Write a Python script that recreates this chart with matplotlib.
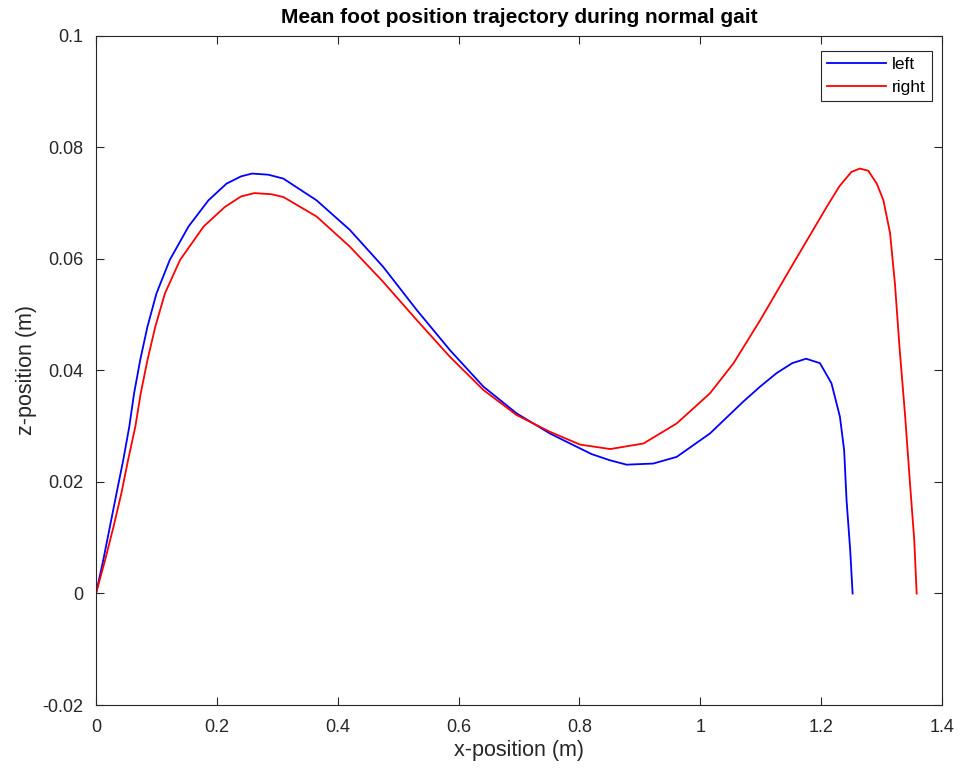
import matplotlib.pyplot as plt

# values
left_x = [0.0, 0.012, 0.023, 0.034, 0.045, 0.055, 0.063, 0.073, 0.085, 0.100,
          0.122, 0.153, 0.186, 0.216, 0.240, 0.258, 0.285, 0.310, 0.365,
          0.420, 0.475, 0.531, 0.586, 0.641, 0.696, 0.751, 0.790, 0.820,
          0.850, 0.878, 0.922, 0.961, 1.016, 1.071, 1.099, 1.126, 1.152,
          1.175, 1.198, 1.217, 1.231, 1.238, 1.242, 1.248, 1.252]
left_z = [0.0, 0.0060, 0.0120, 0.0180, 0.0239, 0.0299, 0.0359, 0.0418, 0.0478,
          0.0538, 0.0598, 0.0658, 0.0705, 0.0735, 0.0748, 0.0753, 0.0751,
          0.0744, 0.0705, 0.0652, 0.0586, 0.0508, 0.0436, 0.0371, 0.0323,
          0.0287, 0.0266, 0.0250, 0.0239, 0.0231, 0.0233, 0.0245, 0.0287,
          0.0344, 0.0371, 0.0395, 0.0413, 0.0421, 0.0413, 0.0377, 0.0317,
          0.0257, 0.0167, 0.0078, 0.0]

right_x = [0.0, 0.015, 0.029, 0.042, 0.053, 0.065, 0.074, 0.085, 0.098, 0.114,
           0.139, 0.178, 0.213, 0.240, 0.262, 0.290, 0.310, 0.365, 0.420,
           0.475, 0.531, 0.586, 0.641, 0.696, 0.751, 0.801, 0.851, 0.906,
           0.961, 1.016, 1.055, 1.099, 1.154, 1.209, 1.230, 1.250, 1.264,
           1.278, 1.292, 1.303, 1.314, 1.322, 1.330, 1.339, 1.347, 1.354,
           1.358]
right_z = [0.0, 0.0060, 0.0120, 0.0180, 0.0239, 0.0299, 0.0359, 0.0418, 0.0478,
           0.0538, 0.0598, 0.0658, 0.0693, 0.0712, 0.0718, 0.0716, 0.0711,
           0.0676, 0.0622, 0.0559, 0.0490, 0.0424, 0.0365, 0.0320, 0.0290,
           0.0267, 0.0259, 0.0269, 0.0305, 0.0359, 0.0413, 0.0490, 0.0592,
           0.0693, 0.0730, 0.0756, 0.0762, 0.0758, 0.0735, 0.0705, 0.0646,
           0.0556, 0.0436, 0.0317, 0.0197, 0.0096, 0.0]

x_ticks = [0, 0.2, 0.4, 0.6, 0.8, 1, 1.2, 1.4]
x_tick_labels = ["0", "0.2", "0.4", "0.6", "0.8", "1", "1.2", "1.4"]
z_ticks = [-0.02, 0, 0.02, 0.04, 0.06, 0.08, 0.1]
z_tick_labels = ["-0.02", "0", "0.02", "0.04", "0.06", "0.08", "0.1"]

plt.rcParams["font.family"] = ["Liberation Sans", "DejaVu Sans"]

fig = plt.figure(figsize=(9.66, 7.69), dpi=100)
ax = fig.add_axes([0.0994, 0.0832, 0.8758, 0.8702])

ax.plot(left_x, left_z, color="#0000ff", lw=1.3, label="left")
ax.plot(right_x, right_z, color="#ff0000", lw=1.3, label="right")

ax.set_xlim(0, 1.4)
ax.set_ylim(-0.02, 0.1)
ax.set_xticks(x_ticks, x_tick_labels)
ax.set_yticks(z_ticks, z_tick_labels)
ax.tick_params(direction="in", top=True, right=True, labelsize=13,
               colors="#262626", length=6, width=0.8)
ax.tick_params(axis="x", pad=10)
ax.tick_params(axis="y", pad=9)
for side in ax.spines.values():
    side.set_color("#262626")
    side.set_linewidth(0.8)

ax.set_title("Mean foot position trajectory during normal gait",
             fontsize=15, fontweight="bold", pad=9)
ax.set_xlabel("x-position (m)", fontsize=15.5, color="#262626", labelpad=3)
ax.set_ylabel("z-position (m)", fontsize=15.5, color="#262626", labelpad=4)

leg = ax.legend(loc="upper right", bbox_to_anchor=(0.988, 0.978),
                borderaxespad=0, fontsize=12.5, fancybox=False,
                edgecolor="#262626", framealpha=1, handlelength=3.4,
                handletextpad=0.35, labelspacing=0.44, borderpad=0.35)
leg.get_frame().set_linewidth(0.8)

fig.savefig("out.png", dpi=100)
